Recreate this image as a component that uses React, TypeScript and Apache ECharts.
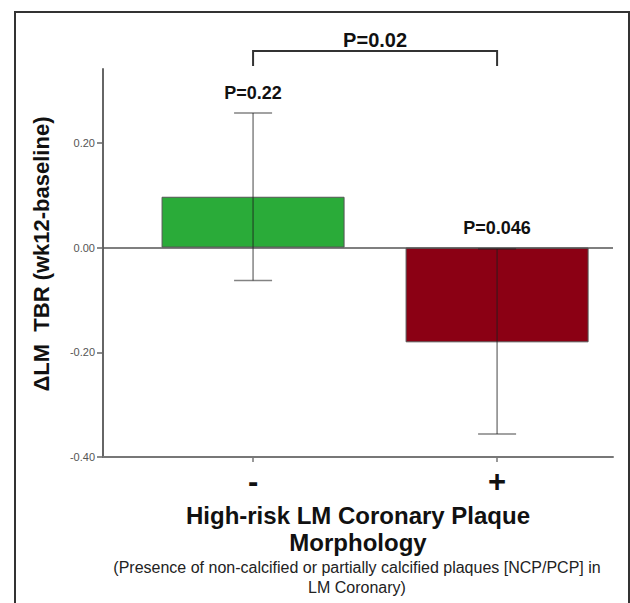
import React, { useEffect, useRef } from "react";
import * as echarts from "echarts";

const categories = ["-", "+"];
const means = [0.097, -0.181];
const ciLow = [-0.063, -0.356];
const ciHigh = [0.257, -0.003];
const pLabels = ["P=0.22", "P=0.046"];
const barColors = ["#2aab39", "#8b0014"];
const yTicks = [-0.4, -0.2, 0, 0.2];
const comparisonLabel = "P=0.02";
const yTitle = "ΔLM  TBR (wk12-baseline)";
const xTitleLines = ["High-risk LM Coronary Plaque", "Morphology"];
const xSubtitleLines = [
  "(Presence of non-calcified or partially calcified plaques [NCP/PCP] in",
  "LM Coronary)",
];

const FONT = "'Liberation Sans', Arial, Helvetica, sans-serif";

export default function App() {
  const ref = useRef<HTMLDivElement>(null);
  useEffect(() => {
    document.body.style.margin = "0";
    if (!ref.current) return;
    const chart = echarts.init(ref.current, null, { renderer: "svg" });
    const xPos = categories.map((_, i) => i + 1);
    const option: any = {
      animation: false,
      backgroundColor: "#ffffff",
      textStyle: { fontFamily: FONT },
      grid: { left: 103, right: 17, top: 69, bottom: 146, containLabel: false },
      xAxis: {
        type: "value",
        min: 0.385,
        max: 2.475,
        splitLine: { show: false },
        axisLine: { show: true, onZero: false, lineStyle: { color: "#777", width: 2 } },
        axisTick: { show: true, customValues: xPos, length: 5, lineStyle: { color: "#777", width: 1.5 } },
        axisLabel: {
          show: true,
          customValues: xPos,
          margin: 9,
          formatter: (v: number) => categories[Math.round(v) - 1] ?? "",
          color: "#111",
          fontSize: 31,
          fontWeight: "bold",
          fontFamily: FONT,
        },
      },
      yAxis: {
        type: "value",
        min: -0.4,
        max: 0.341,
        interval: 0.2,
        splitLine: { show: false },
        axisLine: { show: true, onZero: false, lineStyle: { color: "#666", width: 2 } },
        axisTick: { show: true, customValues: yTicks, length: 6, lineStyle: { color: "#666", width: 1.5 } },
        axisLabel: {
          show: true,
          customValues: yTicks,
          margin: 8,
          formatter: (v: number) => v.toFixed(2),
          color: "#555",
          fontSize: 11,
          fontFamily: FONT,
        },
      },
      series: [
        {
          type: "bar",
          barWidth: 183,
          data: categories.map((_, i) => ({
            value: [xPos[i], means[i]],
            itemStyle: { color: barColors[i], borderColor: "#555", borderWidth: 1 },
          })),
          markLine: {
            silent: true,
            symbol: ["none", "none"],
            label: { show: false },
            lineStyle: { color: "#555", width: 1.5, type: "solid" },
            data: [{ yAxis: 0 }],
          },
          z: 2,
        },
        {
          type: "custom",
          z: 5,
          data: categories.map((_, i) => [xPos[i], ciLow[i], ciHigh[i], means[i]]),
          encode: { x: 0, y: [1, 2] },
          renderItem: (params: any, api: any) => {
            const x = api.value(0);
            const lo = api.value(1);
            const hi = api.value(2);
            const m = api.value(3);
            const pHi = api.coord([x, hi]);
            const pLo = api.coord([x, lo]);
            const pM = api.coord([x, m]);
            const p0 = api.coord([x, 0]);
            const half = 19;
            const style = { stroke: "rgba(30,30,30,0.55)", lineWidth: 1.5 };
            const topY = Math.min(pHi[1], pM[1], p0[1]);
            return {
              type: "group",
              children: [
                { type: "line", shape: { x1: pHi[0], y1: pHi[1], x2: pLo[0], y2: pLo[1] }, style },
                { type: "line", shape: { x1: pHi[0] - half, y1: pHi[1], x2: pHi[0] + half, y2: pHi[1] }, style },
                { type: "line", shape: { x1: pLo[0] - half, y1: pLo[1], x2: pLo[0] + half, y2: pLo[1] }, style },
                {
                  type: "text",
                  x: pHi[0],
                  y: topY - 19.5,
                  style: {
                    text: pLabels[params.dataIndex],
                    textAlign: "center",
                    textVerticalAlign: "middle",
                    font: `bold 18px ${FONT}`,
                    fill: "#111",
                  },
                },
              ],
            };
          },
        },
        {
          type: "custom",
          z: 5,
          clip: false,
          data: [[xPos[0], xPos[1]]],
          encode: { x: [0, 1] },
          renderItem: (params: any, api: any) => {
            const a = api.coord([api.value(0), 0]);
            const b = api.coord([api.value(1), 0]);
            const top = params.coordSys.y;
            const yH = top - 18;
            const yV = top - 3;
            return {
              type: "group",
              children: [
                {
                  type: "polyline",
                  shape: { points: [[a[0], yV], [a[0], yH], [b[0], yH], [b[0], yV]] },
                  style: { stroke: "#333", lineWidth: 2, fill: "none" },
                },
                {
                  type: "text",
                  x: (a[0] + b[0]) / 2,
                  y: top - 29,
                  style: {
                    text: comparisonLabel,
                    textAlign: "center",
                    textVerticalAlign: "middle",
                    font: `bold 20px ${FONT}`,
                    fill: "#111",
                  },
                },
              ],
            };
          },
        },
      ],
      graphic: [
        {
          type: "rect",
          z: -1,
          shape: { x: 15, y: 12, width: 614, height: 620 },
          style: { fill: "none", stroke: "#333", lineWidth: 2 },
        },
        {
          type: "text",
          x: 41,
          y: 254,
          rotation: Math.PI / 2,
          style: {
            text: yTitle,
            textAlign: "center",
            textVerticalAlign: "middle",
            font: `bold 22px ${FONT}`,
            fill: "#111",
          },
        },
        {
          type: "text",
          x: 358,
          y: 515,
          style: { text: xTitleLines[0], textAlign: "center", textVerticalAlign: "middle", font: `bold 24px ${FONT}`, fill: "#111" },
        },
        {
          type: "text",
          x: 358,
          y: 542,
          style: { text: xTitleLines[1], textAlign: "center", textVerticalAlign: "middle", font: `bold 24px ${FONT}`, fill: "#111" },
        },
        {
          type: "text",
          x: 357,
          y: 567,
          style: { text: xSubtitleLines[0], textAlign: "center", textVerticalAlign: "middle", font: `16px ${FONT}`, fill: "#222" },
        },
        {
          type: "text",
          x: 357,
          y: 587,
          style: { text: xSubtitleLines[1], textAlign: "center", textVerticalAlign: "middle", font: `16px ${FONT}`, fill: "#222" },
        },
      ],
    };
    chart.setOption(option);
    return () => chart.dispose();
  }, []);
  return <div ref={ref} style={{ width: 630, height: 603 }} />;
}
